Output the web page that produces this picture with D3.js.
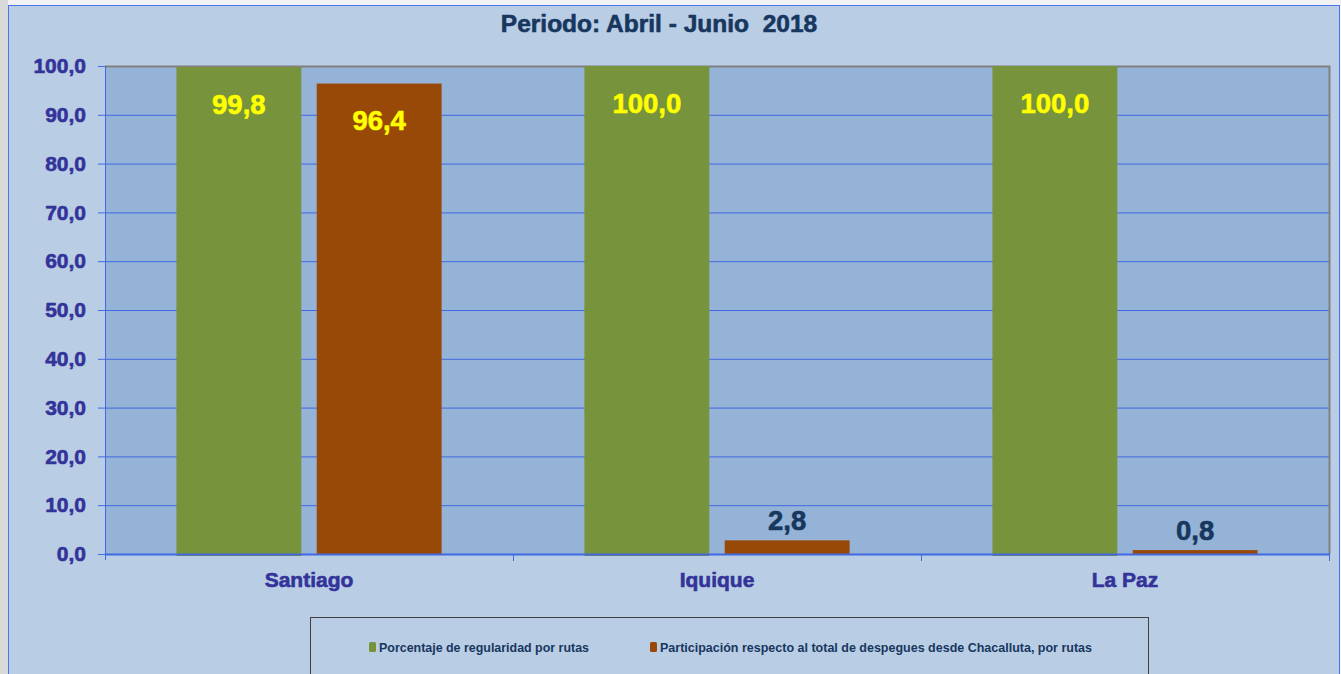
<!DOCTYPE html>
<html>
<head>
<meta charset="utf-8">
<script src="https://cdn.jsdelivr.net/npm/d3@7"></script>
<style>
  html, body { margin: 0; padding: 0; background: #f2f2f2; }
  svg { display: block; font-family: "Liberation Sans", Arial, sans-serif; font-weight: bold; }
  .heavy { stroke-width: 0.6px; stroke-linejoin: round; }
</style>
</head>
<body>
<script>
var svg_width = 1341;
var svg_height = 674;

var categories = ['Santiago', 'Iquique', 'La Paz'];
var seriesNames = ['Porcentaje de regularidad por rutas',
                   'Participación respecto al total de despegues desde Chacalluta, por rutas'];
var regularidad = [99.8, 100.0, 100.0];
var participacion = [96.4, 2.8, 0.8];
var yTicks = [0, 10, 20, 30, 40, 50, 60, 70, 80, 90, 100];
var colors = ['#77933c', '#984807'];

var plot = {left: 105, right: 1329, top: 66, bottom: 554};

var svg = d3.select('body').append('svg')
            .attr('width', svg_width)
            .attr('height', svg_height);

// page edges + chart area
svg.append('rect').attr('x', 0).attr('y', 0).attr('width', 8).attr('height', svg_height).attr('fill', '#d9d9d9');
svg.append('rect').attr('x', 8.5).attr('y', 5.5).attr('width', 1331).attr('height', 700)
    .attr('fill', '#b9cde5').attr('stroke', '#4a74f0').attr('stroke-width', 1);

svg.append('text')
    .attr('class', 'heavy')
    .attr('x', 659).attr('y', 32)
    .attr('text-anchor', 'middle')
    .attr('xml:space', 'preserve')
    .style('white-space', 'pre')
    .attr('font-size', 24.5)
    .attr('fill', '#17375e').attr('stroke', '#17375e')
    .text('Periodo: Abril - Junio  2018');

var x0 = d3.scaleBand().domain(categories).range([plot.left, plot.right])
           .paddingInner(0.35).paddingOuter(0.175);
var x1 = d3.scaleBand().domain([0, 1]).range([0, x0.bandwidth()]).paddingInner(0.11);
var y = d3.scaleLinear().domain([0, 100]).range([plot.bottom, plot.top]);

// plot background
svg.append('rect')
    .attr('x', plot.left).attr('y', plot.top)
    .attr('width', plot.right - plot.left).attr('height', plot.bottom - plot.top)
    .attr('fill', '#95b3d7');

// gridlines
svg.append('g').selectAll('line').data(yTicks.slice(1)).join('line')
    .attr('x1', plot.left).attr('x2', plot.right)
    .attr('y1', d => y(d) + 0.5).attr('y2', d => y(d) + 0.5)
    .attr('stroke', '#4169e1').attr('stroke-width', 1);

// top/right border of plot
svg.append('path')
    .attr('d', 'M' + plot.left + ',' + (plot.top + 0.5) + 'H' + (plot.right + 0.5) + 'V' + plot.bottom)
    .attr('fill', 'none').attr('stroke', '#808080').attr('stroke-width', 2);

var rows = categories.map((c, i) => ({cat: c, vals: [regularidad[i], participacion[i]]}));

var groups = svg.append('g').selectAll('g').data(rows).join('g')
    .attr('transform', d => 'translate(' + x0(d.cat) + ',0)');

groups.selectAll('rect').data(d => d.vals.map((v, k) => ({v: v, k: k}))).join('rect')
    .attr('x', d => x1(d.k))
    .attr('y', d => y(d.v))
    .attr('width', x1.bandwidth())
    .attr('height', d => plot.bottom - y(d.v) + (d.k === 0 ? 2 : 0))
    .attr('fill', d => colors[d.k]);

groups.selectAll('text').data(d => d.vals.map((v, k) => ({v: v, k: k}))).join('text')
    .attr('class', 'heavy')
    .attr('x', d => x1(d.k) + x1.bandwidth() / 2)
    .attr('y', d => d.v > 20 ? y(d.v) + 37 : y(d.v) - 20)
    .attr('dy', '0.35em')
    .attr('text-anchor', 'middle')
    .attr('font-size', 27.5)
    .attr('fill', d => d.v > 20 ? '#ffff00' : '#17375e')
    .attr('stroke', d => d.v > 20 ? '#ffff00' : '#17375e')
    .text(d => d3.format('.1f')(d.v).replace('.', ','));

// axes
var yaxis = d3.axisLeft(y).tickValues(yTicks).tickSize(7).tickPadding(12)
    .tickFormat(d => d3.format('.1f')(d).replace('.', ','));
var gy = svg.append('g').attr('transform', 'translate(' + plot.left + ',0)').call(yaxis);
gy.select('.domain').attr('d', 'M0.5,' + plot.top + 'V' + (plot.bottom + 6));
gy.selectAll('line').attr('stroke', '#4169e1');
gy.selectAll('.domain').attr('stroke', '#4169e1');
gy.selectAll('text').attr('class', 'heavy').attr('font-size', 21).attr('fill', '#333399').attr('stroke', '#333399')
    .attr('font-family', '"Liberation Sans", Arial, sans-serif').attr('font-weight', 'bold');

svg.append('line')
    .attr('x1', plot.left).attr('x2', plot.right + 1)
    .attr('y1', plot.bottom + 0.5).attr('y2', plot.bottom + 0.5)
    .attr('stroke', '#4169e1').attr('stroke-width', 2);

var bounds = categories.slice(1).map(c => x0(c) - x0.step() * x0.paddingInner() / 2).concat([plot.right]);
svg.append('g').selectAll('line').data(bounds).join('line')
    .attr('x1', d => Math.round(d) + 0.5).attr('x2', d => Math.round(d) + 0.5)
    .attr('y1', plot.bottom).attr('y2', plot.bottom + 7)
    .attr('stroke', '#4169e1');

svg.append('g').selectAll('text').data(categories).join('text')
    .attr('class', 'heavy')
    .attr('x', d => x0(d) + x0.bandwidth() / 2)
    .attr('y', 587)
    .attr('text-anchor', 'middle')
    .attr('font-size', 21)
    .attr('fill', '#333399').attr('stroke', '#333399')
    .text(d => d);

// legend
var legend = svg.append('g');
legend.append('rect')
    .attr('x', 310.5).attr('y', 617.5).attr('width', 838).attr('height', 80)
    .attr('fill', 'none').attr('stroke', '#404040').attr('stroke-width', 1);
var legendX = [369, 650];
var legendW = [210, 432];
var items = legend.selectAll('g.item').data(seriesNames).join('g')
    .attr('class', 'item')
    .attr('transform', (d, i) => 'translate(' + legendX[i] + ',647)');
items.append('rect')
    .attr('x', 0).attr('y', -5).attr('width', 7).attr('height', 10).attr('rx', 1.5)
    .attr('fill', (d, i) => colors[i]);
items.append('text')
    .attr('x', 10).attr('dy', '0.35em')
    .attr('font-size', 13.5)
    .attr('textLength', (d, i) => legendW[i])
    .attr('lengthAdjust', 'spacingAndGlyphs')
    .attr('fill', '#17375e')
    .text(d => d);
</script>
</body>
</html>
